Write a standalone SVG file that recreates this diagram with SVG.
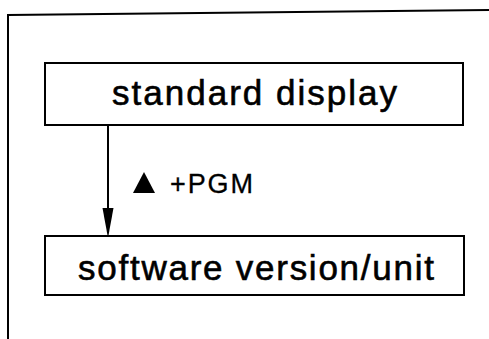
<svg xmlns="http://www.w3.org/2000/svg" width="489" height="339" viewBox="0 0 489 339">
<style>
.box{fill:#fff;stroke:#000;stroke-width:2}
.lbl{font-family:"Liberation Sans",Arial,sans-serif;font-size:35px;fill:#000;stroke:#000;stroke-width:0.6}
.small{font-family:"Liberation Sans",Arial,sans-serif;font-size:27px;fill:#000;stroke:#000;stroke-width:0.3}
.ln{stroke:#000;stroke-width:2;fill:none}
</style>
<rect width="489" height="339" fill="#fff"/>
<g id="frame">
<path class="ln" d="M8,339 L8,15 L489,10"/>
</g>
<g id="connectors">
<line class="ln" x1="108" y1="125" x2="108" y2="220"/>
<polygon points="102.5,208 113.5,208 108,238" fill="#000"/>
<polygon points="144,172 133,193 155,193" fill="#000"/>
<text class="small" x="170" y="193" textLength="83" lengthAdjust="spacing">+PGM</text>
</g>
<g id="node-standard-display">
<rect class="box" x="45" y="63" width="418" height="62"/>
<text class="lbl" x="112" y="105" textLength="285" lengthAdjust="spacing">standard display</text>
</g>
<g id="node-software-version">
<rect class="box" x="45" y="236" width="419" height="59"/>
<text class="lbl" x="78" y="280" textLength="356" lengthAdjust="spacing">software version/unit</text>
</g>
</svg>
